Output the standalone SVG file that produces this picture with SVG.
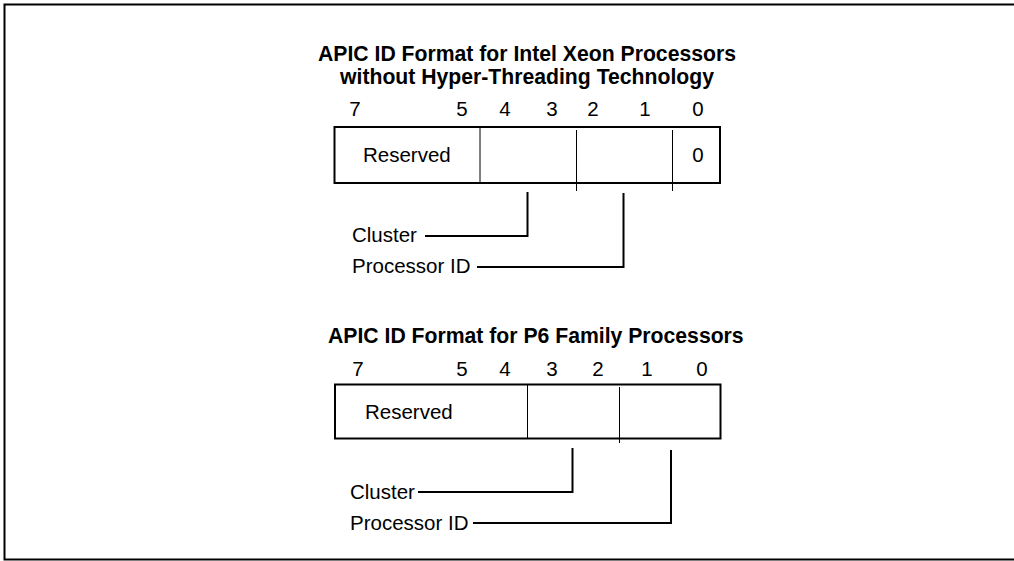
<svg xmlns="http://www.w3.org/2000/svg" width="1014" height="561" viewBox="0 0 1014 561">
<style>
.t{font-family:"Liberation Sans",Arial,sans-serif;font-size:20.5px;fill:#000}
.b{font-family:"Liberation Sans",Arial,sans-serif;font-size:21.2px;font-weight:bold;fill:#000}
.m{text-anchor:middle}
.box{fill:#fff;stroke:#000;stroke-width:2}
.div{stroke:#000;stroke-width:1;fill:none}
.con{stroke:#000;stroke-width:2;fill:none}
</style>
<rect width="1014" height="561" fill="#fff"/>
<path d="M1016,4.5 H4.5 V559.5 H1016" fill="none" stroke="#000" stroke-width="2"/>

<g id="xeon">
<text class="b m" x="527" y="61">APIC ID Format for Intel Xeon Processors</text>
<text class="b m" x="527" y="84">without Hyper-Threading Technology</text>
<g class="t m">
<text x="355" y="116">7</text><text x="462" y="116">5</text><text x="505" y="116">4</text><text x="552" y="116">3</text><text x="593" y="116">2</text><text x="645" y="116">1</text><text x="698" y="116">0</text>
</g>
<rect class="box" x="334.5" y="127" width="385.5" height="56"/>
<line class="div" x1="480" y1="127" x2="480" y2="183"/>
<line class="div" x1="576.5" y1="130" x2="576.5" y2="191"/>
<line class="div" x1="672.5" y1="130" x2="672.5" y2="191"/>
<text class="t" x="363" y="162">Reserved</text>
<text class="t m" x="698" y="162">0</text>
<text class="t" x="352" y="242">Cluster</text>
<text class="t" x="352" y="273">Processor ID</text>
</g>

<g id="p6">
<text class="b" x="328" y="343">APIC ID Format for P6 Family Processors</text>
<g class="t m">
<text x="358" y="376">7</text><text x="462" y="376">5</text><text x="505" y="376">4</text><text x="552" y="376">3</text><text x="598" y="376">2</text><text x="647" y="376">1</text><text x="702" y="376">0</text>
</g>
<rect class="box" x="335" y="384.5" width="385.5" height="54"/>
<line class="div" x1="527.5" y1="384.5" x2="527.5" y2="438.5"/>
<line class="div" x1="619.5" y1="387" x2="619.5" y2="443"/>
<text class="t" x="365" y="419">Reserved</text>
<text class="t" x="350" y="499">Cluster</text>
<text class="t" x="350" y="530">Processor ID</text>
</g>

<g id="connectors">
<path class="con" d="M527.5,192 V236 H425"/>
<path class="con" d="M623.5,193 V267 H477"/>
<path class="con" d="M572.5,448 V492 H418"/>
<path class="con" d="M671,450 V523 H473"/>
</g>
</svg>
